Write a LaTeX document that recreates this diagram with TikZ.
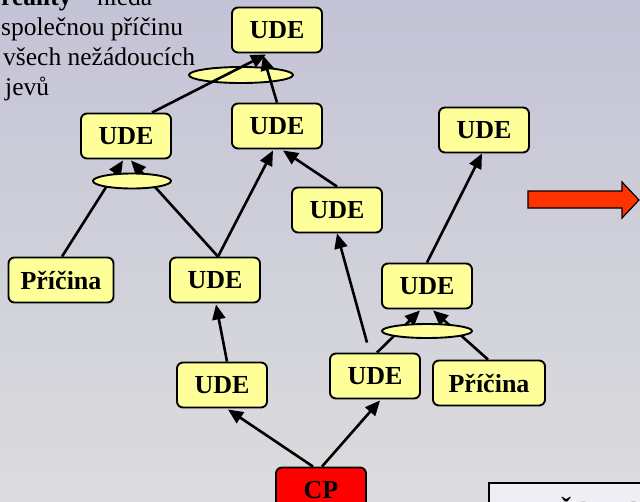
\documentclass[tikz,border=0pt]{standalone}
\usepackage{fontspec}
\setmainfont{Liberation Serif}
\usetikzlibrary{arrows.meta,calc,shapes.geometric}
\definecolor{boxyellow}{HTML}{FFFF99}
\definecolor{bgtop}{HTML}{C3C3D6}
\definecolor{bgbot}{HTML}{DCDCDE}
\definecolor{arrowred}{HTML}{FF3300}
\definecolor{notebox}{HTML}{EEEEF4}
\tikzset{
  udebox/.style={draw=black, line width=1.9pt, fill=boxyellow, rounded corners=6pt,
    minimum width=90pt, minimum height=45pt, inner sep=0pt,
    font=\fontsize{26}{30}\selectfont\bfseries},
  cpbox/.style={udebox, fill=red},
  andell/.style={ellipse, draw=black, line width=1.9pt, fill=boxyellow, inner sep=0pt},
  conn/.style={line width=2.6pt, -{Triangle[length=15pt,width=13pt]}},
  txt/.style={anchor=base west, inner sep=0pt, font=\fontsize{25.5}{30}\selectfont}
}
\begin{document}
\begin{tikzpicture}[x=1pt,y=-1pt]
\useasboundingbox (0,0) rectangle (640,501);
\clip (0,0) rectangle (640,501);
\shade[top color=bgtop, bottom color=bgbot] (0,0) rectangle (640,501);

% top-left text
\node[txt] (t1) at (1,5) {\textbf{reality} -- hledá};
\node[txt] (t2) at (1,35) {společnou příčinu};
\node[txt] (t3) at (3,65) {všech nežádoucích};
\node[txt] (t4) at (5,95) {jevů};

% nodes
\node[udebox] (udeT) at (277,30) {UDE};
\node[udebox] (udeL) at (126,136) {UDE};
\node[udebox] (udeM) at (277,126) {UDE};
\node[udebox] (udeRT) at (484,130) {UDE};
\node[udebox] (udeC) at (337,210) {UDE};
\node[udebox, minimum width=105pt] (pricL) at (61,280) {Příčina};
\node[udebox] (udeM4) at (215,280) {UDE};
\node[udebox] (udeR4) at (427,286) {UDE};
\node[udebox] (udeBL) at (222,385) {UDE};
\node[udebox] (udeBR) at (375,376) {UDE};
\node[udebox, minimum width=112pt] (pricR) at (489,383) {Příčina};
\node[cpbox] (cp) at (321,490) {CP};

% AND ellipse under the top connectors
\node[andell, minimum width=104pt, minimum height=16pt] (andT) at (241,75) {};

% connectors
\draw[conn] ($(udeL.north)+(26,0)$) -- ($(udeT.south)+(-11,1)$);
\draw[conn] (udeM.north) -- ($(udeT.south)+(-14,2)$);
\draw[conn] ($(pricL.north)+(1,0)$) -- ($(udeL.south)+(-3,1)$);
\draw[conn] ($(udeM4.north)+(3,0)$) -- ($(udeL.south)+(5,1)$);
\draw[conn] ($(udeM4.north)+(3,0)$) -- ($(udeM.south)+(-4,1)$);
\draw[conn] (udeC.north) -- ($(udeM.south)+(6,1)$);
\draw[conn] ($(udeBR.north)+(-8,-10)$) -- (udeC.south);
\draw[conn] ($(udeBR.north)+(2,0)$) -- ($(udeR4.south)+(-7,1)$);
\draw[conn] ($(pricR.north)+(-1,0)$) -- ($(udeR4.south)+(6,1)$);
\draw[conn] (udeR4.north) -- ($(udeRT.south)+(-2,0)$);
\draw[conn] ($(udeBL.north)+(5,0)$) -- ($(udeM4.south)+(1,1)$);
\draw[conn] ($(cp.north)+(-8,0)$) -- ($(udeBL.south)+(6,1)$);
\draw[conn] ($(cp.north)+(1,0)$) -- ($(udeBR.south)+(5,1)$);

% AND ellipses over the lower connectors
\node[andell, minimum width=78pt, minimum height=15pt] (andL) at (132,181) {};
\node[andell, minimum width=90pt, minimum height=14pt] (andR) at (427,331) {};

% red arrow
\draw[fill=arrowred, draw=black, line width=1.2pt]
  (528,191) -- (622,191) -- (622,182) -- (639,200) -- (622,218) -- (622,208) -- (528,208) -- cycle;

% bottom-right box
\node[draw=black, line width=1.5pt, fill=notebox, anchor=north west, minimum width=200pt,
  minimum height=60pt, inner sep=0pt] (note) at (488,482) {};
\node[anchor=north west, inner sep=0pt, font=\fontsize{29}{34}\selectfont\bfseries] (notetxt) at (556,497) {Řízení};
\end{tikzpicture}
\end{document}
